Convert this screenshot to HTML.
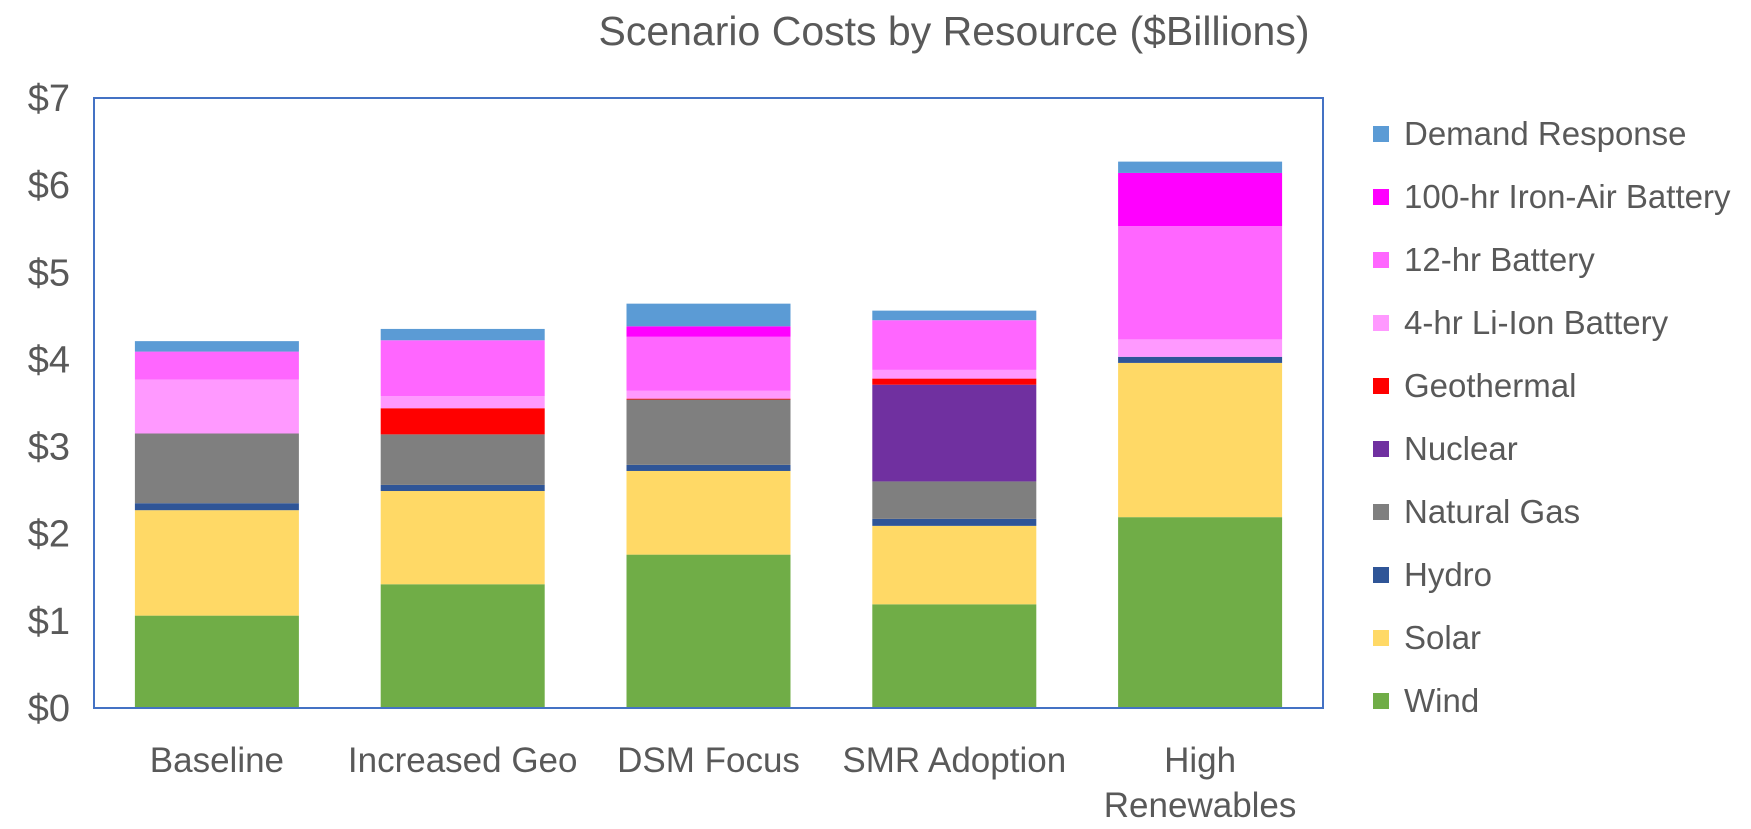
<!DOCTYPE html>
<html><head><meta charset="utf-8"><style>
html,body{margin:0;padding:0;background:#fff;}
svg{display:block;font-family:"Liberation Sans",sans-serif;}
</style></head><body>
<svg id="chart" width="1751" height="829" viewBox="0 0 1751 829">
<text x="954" y="45" text-anchor="middle" font-size="41" fill="#595959">Scenario Costs by Resource ($Billions)</text>
<g id="yaxis"></g>
<g id="bars"></g>
<rect x="94" y="98" width="1229" height="610" fill="none" stroke="#4472c4" stroke-width="2"/>
<g id="xaxis"></g>
<g id="legend"></g>
</svg>
<script>
const categories = ["Baseline","Increased Geo","DSM Focus","SMR Adoption","High Renewables"];
const seriesNames = ["Wind","Solar","Hydro","Natural Gas","Nuclear","Geothermal","4-hr Li-Ion Battery","12-hr Battery","100-hr Iron-Air Battery","Demand Response"];
const seriesColors = ["#70ad47","#ffd966","#2f5597","#7f7f7f","#7030a0","#ff0000","#ff99ff","#ff66ff","#ff00ff","#5b9bd5"];
const wind = [1.06,1.42,1.76,1.19,2.19];
const solar = [1.21,1.07,0.96,0.90,1.77];
const hydro = [0.08,0.07,0.07,0.08,0.07];
const gas = [0.80,0.58,0.75,0.43,0];
const nuclear = [0,0,0,1.11,0];
const geothermal = [0,0.30,0.01,0.07,0];
const liion = [0.62,0.14,0.09,0.10,0.20];
const battery12 = [0.32,0.64,0.62,0.57,1.30];
const ironAir = [0,0,0.12,0,0.61];
const demandResponse = [0.12,0.13,0.26,0.11,0.13];
const yTicks = [0,1,2,3,4,5,6,7];
const yTickLabels = ["$0","$1","$2","$3","$4","$5","$6","$7"];

const series = [wind,solar,hydro,gas,nuclear,geothermal,liion,battery12,ironAir,demandResponse];
const NS="http://www.w3.org/2000/svg";
const L=94,R=1323,T=98,B=708,YMAX=7;
const y=v=>B-(v/YMAX)*(B-T);
const band=(R-L)/categories.length;
const xc=i=>L+band*(i+0.5);
const bw=164;
function mk(tag,attrs,parent){const e=document.createElementNS(NS,tag);for(const k in attrs)e.setAttribute(k,attrs[k]);parent.appendChild(e);return e;}
const yg=document.getElementById('yaxis');
yTicks.forEach((t,i)=>{const e=mk('text',{x:70,y:y(t)+13,'text-anchor':'end','font-size':38,fill:'#595959'},yg);


e.textContent=yTickLabels[i];});
const bg=document.getElementById('bars');
categories.forEach((c,i)=>{let acc=0;series.forEach((s,j)=>{const v=s[i];if(v<=0){return;}
const r=mk('rect',{x:xc(i)-bw/2,y:y(acc+v),width:bw,height:y(acc)-y(acc+v),fill:seriesColors[j]},bg);


acc+=v;});});
const xg=document.getElementById('xaxis');
categories.forEach((c,i)=>{const t=mk('text',{x:xc(i),y:772,'text-anchor':'middle','font-size':35,fill:'#595959'},xg);


if(c==="High Renewables"){mk('tspan',{x:xc(i),dy:0},t).textContent="High";mk('tspan',{x:xc(i),dy:45},t).textContent="Renewables";}else t.textContent=c;});
const lg=document.getElementById('legend');
for(let k=0;k<seriesNames.length;k++){const j=seriesNames.length-1-k;const cy=134+k*63;
const g=mk('g',{},lg);


mk('rect',{x:1373,y:cy-8,width:16,height:16,fill:seriesColors[j]},g);
const t=mk('text',{x:1404,y:cy+11,'font-size':33,fill:'#595959'},g);t.textContent=seriesNames[j];}
</script>
</body></html>
